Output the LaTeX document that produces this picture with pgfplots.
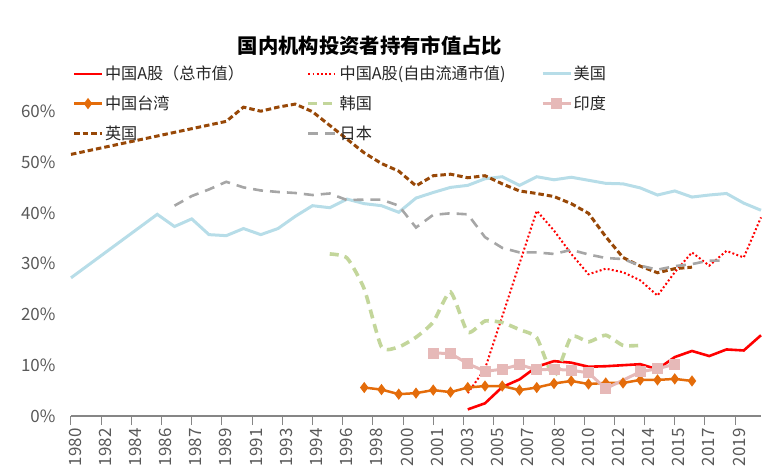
\documentclass[border=0pt]{standalone}
\usepackage{fontspec}
\setmainfont{Noto Sans CJK SC}
\usepackage{pgfplots}
\pgfplotsset{compat=1.18}
\definecolor{cnred}{RGB}{255,0,0}
\definecolor{usblue}{RGB}{183,221,232}
\definecolor{twor}{RGB}{228,108,10}
\definecolor{krgreen}{RGB}{195,214,155}
\definecolor{inpink}{RGB}{230,185,184}
\definecolor{ukbrown}{RGB}{152,72,7}
\definecolor{jpgray}{RGB}{166,166,166}
\definecolor{axgray}{RGB}{134,134,134}
\definecolor{lblgray}{RGB}{89,89,89}
\definecolor{legtext}{RGB}{38,38,38}
\newcommand{\lt}[1]{\makebox[200bp][l]{#1}}
\begin{document}
\begin{tikzpicture}
\begin{axis}[
  scale only axis, width=690bp, height=355.6bp,
  xmin=1980, xmax=2020, ymin=0, ymax=70,
  axis x line*=bottom, axis y line*=left,
  y axis line style={draw=none},
  x axis line style={draw=axgray, line width=1.2bp},
  xtick={1980,1981.75,1983.5,1985.25,1987,1988.75,1990.5,1992.25,1994,1995.75,1997.5,1999.25,2001,2002.75,2004.5,2006.25,2008,2009.75,2011.5,2013.25,2015,2016.75,2018.5},
  xticklabels={1980,1982,1984,1986,1987,1989,1991,1993,1994,1996,1998,2000,2001,2003,2005,2007,2008,2010,2012,2014,2015,2017,2019},
  xtick style={draw=axgray, line width=1bp},
  major tick length=9bp, xtick align=outside,
  ytick={0,10,20,30,40,50,60},
  yticklabels={0\%,10\%,20\%,30\%,40\%,50\%,60\%},
  ytick style={draw=none},
  tick label style={font=\fontsize{17}{17}\selectfont, text=lblgray},
  xticklabel style={rotate=90, anchor=east, yshift=-4bp},
  yticklabel style={xshift=-12bp},
  clip=false,
  legend columns=3,
  legend cell align=left,
  legend style={draw=none, fill=none, at={(axis description cs:0.0022,0.988)}, anchor=north west,
    inner sep=0pt, outer sep=0pt, font=\fontsize{16.2}{18}\selectfont, text=legtext,
    row sep=11.5bp, column sep=0pt, nodes={inner sep=1.5bp}},
  legend image code/.code={\draw[mark repeat=2,mark phase=2,#1] plot coordinates {(0bp,0bp) (14bp,0bp) (28bp,0bp)};},
]
\coordinate (O) at (rel axis cs:0,0);
% China A total
\addplot[cnred, line width=2.6bp, mark=none] coordinates {
(2003,1.3)(2004,2.5)(2005,5.7)(2006,7.2)(2007,9.7)(2008,10.8)(2009,10.5)(2010,9.7)(2011,9.8)(2012,10.0)(2013,10.2)(2014,9.2)(2015,11.6)(2016,12.8)(2017,11.8)(2018,13.1)(2019,12.9)(2020,15.9)};
\addlegendentry{\lt{中国A股（总市值）}}
% China A free float
\addplot[cnred, line width=2bp, dash pattern=on 1.9bp off 2.3bp, mark=none] coordinates {
(2003,4.5)(2004,9.3)(2005,19.6)(2006,30.0)(2007,40.4)(2008,36.5)(2009,31.9)(2010,27.9)(2011,29.0)(2012,28.3)(2013,26.7)(2014,23.7)(2015,28.3)(2016,32.2)(2017,29.6)(2018,32.5)(2019,31.2)(2020,39.1)};
\addlegendentry{\lt{中国A股(自由流通市值)}}
% US
\addplot[usblue, line width=3bp, mark=none] coordinates {
(1980,27.2)(1985,39.7)(1986,37.3)(1987,38.8)(1988,35.7)(1989,35.5)(1990,36.9)(1991,35.7)(1992,36.9)(1993,39.3)(1994,41.4)(1995,41.0)(1996,42.7)(1997,41.8)(1998,41.4)(1999,40.1)(2000,42.9)(2001,44.0)(2002,45.0)(2003,45.4)(2004,46.7)(2005,47.1)(2006,45.4)(2007,47.1)(2008,46.5)(2009,47.0)(2010,46.4)(2011,45.8)(2012,45.7)(2013,44.9)(2014,43.5)(2015,44.3)(2016,43.1)(2017,43.5)(2018,43.8)(2019,41.9)(2020,40.5)};
\addlegendentry{\lt{美国}}
% Taiwan
\addplot[twor, line width=2.5bp, mark=diamond*, mark size=3.6bp, mark options={solid}] coordinates {
(1997,5.6)(1998,5.2)(1999,4.3)(2000,4.5)(2001,5.1)(2002,4.7)(2003,5.6)(2004,5.9)(2005,5.9)(2006,5.1)(2007,5.6)(2008,6.4)(2009,6.9)(2010,6.3)(2011,6.5)(2012,6.5)(2013,7.1)(2014,7.1)(2015,7.3)(2016,6.9)};
\addlegendentry{\lt{中国台湾}}
% Korea
\addplot[krgreen, line width=3.6bp, dash pattern=on 9bp off 6bp, smooth, tension=0.35, mark=none] coordinates {
(1995,31.9)(1996,31.1)(1997,25.0)(1998,13.6)(1999,13.6)(2000,15.5)(2001,18.5)(2002,24.4)(2003,16.5)(2004,18.7)(2005,18.4)(2006,17.0)(2007,15.4)(2008,7.8)(2009,15.6)(2010,14.6)(2011,15.9)(2012,13.9)(2013,13.9)};
\addlegendentry{\lt{韩国}}
% India
\addplot[inpink, line width=3bp, mark=square*, mark size=4bp, mark options={solid}] coordinates {
(2001,12.4)(2002,12.3)(2003,10.3)(2004,8.8)(2005,9.2)(2006,10.1)(2007,9.1)(2008,9.2)(2009,9.0)(2010,8.5)(2011,5.4)(2013,8.7)(2014,9.3)(2015,10.2)};
\addlegendentry{\lt{印度}}
% UK
\addplot[ukbrown, line width=3bp, dash pattern=on 5.5bp off 3bp, mark=none] coordinates {
(1980,51.5)(1989,58.0)(1990,60.8)(1991,60.0)(1992,60.8)(1993,61.4)(1994,59.9)(1995,57.2)(1996,54.5)(1997,51.8)(1998,49.7)(1999,48.2)(2000,45.3)(2001,47.3)(2002,47.6)(2003,46.9)(2004,47.3)(2005,45.7)(2006,44.3)(2007,43.8)(2008,43.2)(2009,41.8)(2010,39.9)(2011,35.3)(2012,31.2)(2013,29.5)(2014,28.2)(2015,29.0)(2016,29.3)};
\addlegendentry{\lt{英国}}
% Japan
\addplot[jpgray, line width=2.6bp, dash pattern=on 10bp off 7bp, mark=none] coordinates {
(1986,41.4)(1987,43.3)(1988,44.6)(1989,46.1)(1990,45.0)(1991,44.4)(1992,44.1)(1993,43.9)(1994,43.5)(1995,43.8)(1996,42.5)(1997,42.6)(1998,42.6)(1999,41.4)(2000,37.1)(2001,39.6)(2002,39.9)(2003,39.7)(2004,35.2)(2005,33.1)(2006,32.2)(2007,32.2)(2008,31.9)(2009,32.7)(2010,31.8)(2011,31.1)(2012,30.9)(2013,29.6)(2014,28.8)(2015,29.5)(2016,29.9)(2017,30.6)(2018,30.6)};
\addlegendentry{\lt{日本}}
\node[font=\bfseries\fontsize{20.4}{20}\selectfont, text=black] at (axis description cs:0.4333,1.0405) {国内机构投资者持有市值占比};
\end{axis}
\pgfresetboundingbox
\path (O) ++(-71bp,-56bp) rectangle ++(763bp,472bp);
\end{tikzpicture}
\end{document}
